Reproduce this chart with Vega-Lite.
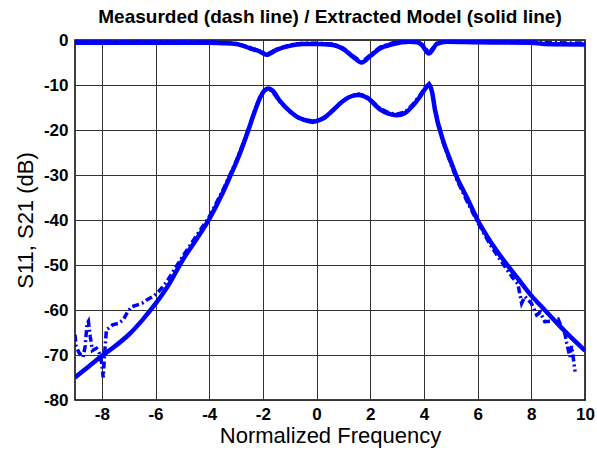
{
  "$schema": "https://vega.github.io/schema/vega-lite/v6.json",
  "width": 510,
  "height": 360,
  "autosize": {"type": "none"},
  "padding": {"left": 75, "top": 40, "right": 12, "bottom": 53},
  "background": "white",
  "title": {
    "text": "Measurded (dash line) / Extracted Model (solid line)",
    "font": "Liberation Sans",
    "fontSize": 19,
    "fontWeight": "bold",
    "color": "black",
    "anchor": "middle",
    "offset": 4
  },
  "config": {
    "view": {"stroke": "black", "strokeWidth": 1.5},
    "axis": {
      "labelFont": "Liberation Sans",
      "labelFontWeight": "bold",
      "labelFontSize": 17,
      "labelColor": "black",
      "titleFont": "Liberation Sans",
      "titleFontWeight": "normal",
      "titleFontSize": 22,
      "titleColor": "black",
      "grid": true,
      "gridColor": "#333333",
      "gridWidth": 1,
      "gridOpacity": 1,
      "domain": false,
      "ticks": false
    }
  },
  "data": {
    "values": [
      {"x": -9, "y": -75, "curve": "S11", "kind": "model"},
      {"x": -8.5, "y": -72.6, "curve": "S11", "kind": "model"},
      {"x": -8, "y": -70.2, "curve": "S11", "kind": "model"},
      {"x": -7.5, "y": -68, "curve": "S11", "kind": "model"},
      {"x": -7, "y": -65.5, "curve": "S11", "kind": "model"},
      {"x": -6.5, "y": -62.3, "curve": "S11", "kind": "model"},
      {"x": -6, "y": -58.6, "curve": "S11", "kind": "model"},
      {"x": -5.5, "y": -54.3, "curve": "S11", "kind": "model"},
      {"x": -5, "y": -49, "curve": "S11", "kind": "model"},
      {"x": -4.5, "y": -44.5, "curve": "S11", "kind": "model"},
      {"x": -4, "y": -39.8, "curve": "S11", "kind": "model"},
      {"x": -3.5, "y": -34, "curve": "S11", "kind": "model"},
      {"x": -3.2, "y": -30, "curve": "S11", "kind": "model"},
      {"x": -3, "y": -27.3, "curve": "S11", "kind": "model"},
      {"x": -2.8, "y": -24.3, "curve": "S11", "kind": "model"},
      {"x": -2.54, "y": -20, "curve": "S11", "kind": "model"},
      {"x": -2.3, "y": -15.8, "curve": "S11", "kind": "model"},
      {"x": -2.1, "y": -12.8, "curve": "S11", "kind": "model"},
      {"x": -1.95, "y": -11.3, "curve": "S11", "kind": "model"},
      {"x": -1.8, "y": -10.8, "curve": "S11", "kind": "model"},
      {"x": -1.65, "y": -11.2, "curve": "S11", "kind": "model"},
      {"x": -1.36, "y": -13.6, "curve": "S11", "kind": "model"},
      {"x": -1, "y": -15.8, "curve": "S11", "kind": "model"},
      {"x": -0.62, "y": -17.4, "curve": "S11", "kind": "model"},
      {"x": -0.13, "y": -18.1, "curve": "S11", "kind": "model"},
      {"x": 0.3, "y": -17.2, "curve": "S11", "kind": "model"},
      {"x": 0.61, "y": -15.6, "curve": "S11", "kind": "model"},
      {"x": 1, "y": -13.5, "curve": "S11", "kind": "model"},
      {"x": 1.3, "y": -12.5, "curve": "S11", "kind": "model"},
      {"x": 1.58, "y": -12.2, "curve": "S11", "kind": "model"},
      {"x": 1.9, "y": -12.9, "curve": "S11", "kind": "model"},
      {"x": 2.36, "y": -15.4, "curve": "S11", "kind": "model"},
      {"x": 2.7, "y": -16.4, "curve": "S11", "kind": "model"},
      {"x": 2.98, "y": -16.7, "curve": "S11", "kind": "model"},
      {"x": 3.3, "y": -16.2, "curve": "S11", "kind": "model"},
      {"x": 3.6, "y": -14.5, "curve": "S11", "kind": "model"},
      {"x": 3.85, "y": -12.6, "curve": "S11", "kind": "model"},
      {"x": 4.05, "y": -10.8, "curve": "S11", "kind": "model"},
      {"x": 4.19, "y": -9.9, "curve": "S11", "kind": "model"},
      {"x": 4.3, "y": -11.5, "curve": "S11", "kind": "model"},
      {"x": 4.41, "y": -15.5, "curve": "S11", "kind": "model"},
      {"x": 4.72, "y": -22.5, "curve": "S11", "kind": "model"},
      {"x": 5, "y": -27, "curve": "S11", "kind": "model"},
      {"x": 5.22, "y": -30.4, "curve": "S11", "kind": "model"},
      {"x": 5.6, "y": -35, "curve": "S11", "kind": "model"},
      {"x": 6, "y": -40, "curve": "S11", "kind": "model"},
      {"x": 6.5, "y": -45, "curve": "S11", "kind": "model"},
      {"x": 7, "y": -49.2, "curve": "S11", "kind": "model"},
      {"x": 7.5, "y": -53, "curve": "S11", "kind": "model"},
      {"x": 8, "y": -56.8, "curve": "S11", "kind": "model"},
      {"x": 8.5, "y": -60, "curve": "S11", "kind": "model"},
      {"x": 9, "y": -63.2, "curve": "S11", "kind": "model"},
      {"x": 9.5, "y": -66.2, "curve": "S11", "kind": "model"},
      {"x": 10, "y": -69, "curve": "S11", "kind": "model"},

      {"x": -9, "y": -65.5, "curve": "S11", "kind": "measured"},
      {"x": -8.96, "y": -68, "curve": "S11", "kind": "measured"},
      {"x": -8.85, "y": -69.5, "curve": "S11", "kind": "measured"},
      {"x": -8.7, "y": -70.5, "curve": "S11", "kind": "measured"},
      {"x": -8.62, "y": -68, "curve": "S11", "kind": "measured"},
      {"x": -8.55, "y": -63, "curve": "S11", "kind": "measured"},
      {"x": -8.5, "y": -62.5, "curve": "S11", "kind": "measured"},
      {"x": -8.43, "y": -66, "curve": "S11", "kind": "measured"},
      {"x": -8.35, "y": -69, "curve": "S11", "kind": "measured"},
      {"x": -8.2, "y": -68.5, "curve": "S11", "kind": "measured"},
      {"x": -8.1, "y": -69.5, "curve": "S11", "kind": "measured"},
      {"x": -8, "y": -72, "curve": "S11", "kind": "measured"},
      {"x": -7.95, "y": -75, "curve": "S11", "kind": "measured"},
      {"x": -7.9, "y": -70, "curve": "S11", "kind": "measured"},
      {"x": -7.83, "y": -64.4, "curve": "S11", "kind": "measured"},
      {"x": -7.7, "y": -63.8, "curve": "S11", "kind": "measured"},
      {"x": -7.6, "y": -63.3, "curve": "S11", "kind": "measured"},
      {"x": -7.4, "y": -63, "curve": "S11", "kind": "measured"},
      {"x": -7.2, "y": -62.2, "curve": "S11", "kind": "measured"},
      {"x": -7.05, "y": -60.5, "curve": "S11", "kind": "measured"},
      {"x": -6.9, "y": -59.3, "curve": "S11", "kind": "measured"},
      {"x": -6.7, "y": -58.9, "curve": "S11", "kind": "measured"},
      {"x": -6.5, "y": -58.5, "curve": "S11", "kind": "measured"},
      {"x": -6.33, "y": -57.8, "curve": "S11", "kind": "measured"},
      {"x": -6.1, "y": -57, "curve": "S11", "kind": "measured"},
      {"x": -5.95, "y": -56.3, "curve": "S11", "kind": "measured"},
      {"x": -5.75, "y": -55, "curve": "S11", "kind": "measured"},
      {"x": -5.58, "y": -53.7, "curve": "S11", "kind": "measured"},
      {"x": -5.3, "y": -51, "curve": "S11", "kind": "measured"},
      {"x": -5, "y": -48.2, "curve": "S11", "kind": "measured"},
      {"x": -4.7, "y": -45.5, "curve": "S11", "kind": "measured"},
      {"x": -4.4, "y": -42.8, "curve": "S11", "kind": "measured"},
      {"x": -4, "y": -39.3, "curve": "S11", "kind": "measured"},
      {"x": -3.5, "y": -33.5, "curve": "S11", "kind": "measured"},
      {"x": -3.2, "y": -29.6, "curve": "S11", "kind": "measured"},
      {"x": -3, "y": -27, "curve": "S11", "kind": "measured"},
      {"x": -2.8, "y": -24, "curve": "S11", "kind": "measured"},
      {"x": -2.54, "y": -19.8, "curve": "S11", "kind": "measured"},
      {"x": -2.3, "y": -15.6, "curve": "S11", "kind": "measured"},
      {"x": -2.1, "y": -12.6, "curve": "S11", "kind": "measured"},
      {"x": -1.95, "y": -11.2, "curve": "S11", "kind": "measured"},
      {"x": -1.8, "y": -10.9, "curve": "S11", "kind": "measured"},
      {"x": -1.65, "y": -11.4, "curve": "S11", "kind": "measured"},
      {"x": -1.36, "y": -13.8, "curve": "S11", "kind": "measured"},
      {"x": -1, "y": -16, "curve": "S11", "kind": "measured"},
      {"x": -0.62, "y": -17.6, "curve": "S11", "kind": "measured"},
      {"x": -0.13, "y": -18.3, "curve": "S11", "kind": "measured"},
      {"x": 0.3, "y": -17.4, "curve": "S11", "kind": "measured"},
      {"x": 0.61, "y": -15.7, "curve": "S11", "kind": "measured"},
      {"x": 1, "y": -13.4, "curve": "S11", "kind": "measured"},
      {"x": 1.3, "y": -12.4, "curve": "S11", "kind": "measured"},
      {"x": 1.58, "y": -12, "curve": "S11", "kind": "measured"},
      {"x": 1.9, "y": -12.7, "curve": "S11", "kind": "measured"},
      {"x": 2.36, "y": -15.2, "curve": "S11", "kind": "measured"},
      {"x": 2.7, "y": -16.2, "curve": "S11", "kind": "measured"},
      {"x": 2.98, "y": -16.5, "curve": "S11", "kind": "measured"},
      {"x": 3.3, "y": -16, "curve": "S11", "kind": "measured"},
      {"x": 3.6, "y": -14.2, "curve": "S11", "kind": "measured"},
      {"x": 3.85, "y": -12.3, "curve": "S11", "kind": "measured"},
      {"x": 4.05, "y": -10.5, "curve": "S11", "kind": "measured"},
      {"x": 4.19, "y": -9.7, "curve": "S11", "kind": "measured"},
      {"x": 4.3, "y": -11.3, "curve": "S11", "kind": "measured"},
      {"x": 4.41, "y": -15.3, "curve": "S11", "kind": "measured"},
      {"x": 4.72, "y": -22.8, "curve": "S11", "kind": "measured"},
      {"x": 5, "y": -27.5, "curve": "S11", "kind": "measured"},
      {"x": 5.22, "y": -31, "curve": "S11", "kind": "measured"},
      {"x": 5.6, "y": -35.8, "curve": "S11", "kind": "measured"},
      {"x": 6, "y": -40.5, "curve": "S11", "kind": "measured"},
      {"x": 6.5, "y": -45.8, "curve": "S11", "kind": "measured"},
      {"x": 6.8, "y": -48.5, "curve": "S11", "kind": "measured"},
      {"x": 7, "y": -50.2, "curve": "S11", "kind": "measured"},
      {"x": 7.3, "y": -52.8, "curve": "S11", "kind": "measured"},
      {"x": 7.5, "y": -54.2, "curve": "S11", "kind": "measured"},
      {"x": 7.64, "y": -58.5, "curve": "S11", "kind": "measured"},
      {"x": 7.76, "y": -57, "curve": "S11", "kind": "measured"},
      {"x": 8, "y": -58.5, "curve": "S11", "kind": "measured"},
      {"x": 8.2, "y": -61.1, "curve": "S11", "kind": "measured"},
      {"x": 8.33, "y": -60.5, "curve": "S11", "kind": "measured"},
      {"x": 8.5, "y": -62.6, "curve": "S11", "kind": "measured"},
      {"x": 8.7, "y": -62.5, "curve": "S11", "kind": "measured"},
      {"x": 9, "y": -62, "curve": "S11", "kind": "measured"},
      {"x": 9.1, "y": -63.5, "curve": "S11", "kind": "measured"},
      {"x": 9.25, "y": -65.2, "curve": "S11", "kind": "measured"},
      {"x": 9.32, "y": -67.4, "curve": "S11", "kind": "measured"},
      {"x": 9.44, "y": -70.4, "curve": "S11", "kind": "measured"},
      {"x": 9.5, "y": -68, "curve": "S11", "kind": "measured"},
      {"x": 9.55, "y": -70, "curve": "S11", "kind": "measured"},
      {"x": 9.63, "y": -73.7, "curve": "S11", "kind": "measured"},

      {"x": -9, "y": -0.6, "curve": "S21", "kind": "model"},
      {"x": -6, "y": -0.6, "curve": "S21", "kind": "model"},
      {"x": -4, "y": -0.6, "curve": "S21", "kind": "model"},
      {"x": -3.5, "y": -0.7, "curve": "S21", "kind": "model"},
      {"x": -3, "y": -0.9, "curve": "S21", "kind": "model"},
      {"x": -2.5, "y": -1.8, "curve": "S21", "kind": "model"},
      {"x": -2.1, "y": -2.6, "curve": "S21", "kind": "model"},
      {"x": -1.86, "y": -3.3, "curve": "S21", "kind": "model"},
      {"x": -1.5, "y": -2.2, "curve": "S21", "kind": "model"},
      {"x": -1, "y": -1.3, "curve": "S21", "kind": "model"},
      {"x": -0.5, "y": -0.9, "curve": "S21", "kind": "model"},
      {"x": 0, "y": -0.9, "curve": "S21", "kind": "model"},
      {"x": 0.61, "y": -1.1, "curve": "S21", "kind": "model"},
      {"x": 0.99, "y": -2, "curve": "S21", "kind": "model"},
      {"x": 1.37, "y": -3.8, "curve": "S21", "kind": "model"},
      {"x": 1.68, "y": -5, "curve": "S21", "kind": "model"},
      {"x": 1.99, "y": -3.6, "curve": "S21", "kind": "model"},
      {"x": 2.36, "y": -1.9, "curve": "S21", "kind": "model"},
      {"x": 2.85, "y": -0.9, "curve": "S21", "kind": "model"},
      {"x": 3.48, "y": -0.4, "curve": "S21", "kind": "model"},
      {"x": 3.75, "y": -0.5, "curve": "S21", "kind": "model"},
      {"x": 3.92, "y": -1.1, "curve": "S21", "kind": "model"},
      {"x": 4.19, "y": -3, "curve": "S21", "kind": "model"},
      {"x": 4.48, "y": -0.9, "curve": "S21", "kind": "model"},
      {"x": 4.85, "y": -0.4, "curve": "S21", "kind": "model"},
      {"x": 6, "y": -0.5, "curve": "S21", "kind": "model"},
      {"x": 8, "y": -0.6, "curve": "S21", "kind": "model"},
      {"x": 8.5, "y": -0.9, "curve": "S21", "kind": "model"},
      {"x": 10, "y": -1, "curve": "S21", "kind": "model"},

      {"x": -9, "y": -0.3, "curve": "S21", "kind": "measured"},
      {"x": -6, "y": -0.3, "curve": "S21", "kind": "measured"},
      {"x": -4, "y": -0.4, "curve": "S21", "kind": "measured"},
      {"x": -3.5, "y": -0.6, "curve": "S21", "kind": "measured"},
      {"x": -3, "y": -0.8, "curve": "S21", "kind": "measured"},
      {"x": -2.5, "y": -1.6, "curve": "S21", "kind": "measured"},
      {"x": -2.1, "y": -2.5, "curve": "S21", "kind": "measured"},
      {"x": -1.86, "y": -3.2, "curve": "S21", "kind": "measured"},
      {"x": -1.5, "y": -2.1, "curve": "S21", "kind": "measured"},
      {"x": -1, "y": -1.1, "curve": "S21", "kind": "measured"},
      {"x": -0.5, "y": -0.7, "curve": "S21", "kind": "measured"},
      {"x": 0, "y": -0.7, "curve": "S21", "kind": "measured"},
      {"x": 0.61, "y": -0.9, "curve": "S21", "kind": "measured"},
      {"x": 0.99, "y": -1.8, "curve": "S21", "kind": "measured"},
      {"x": 1.37, "y": -3.6, "curve": "S21", "kind": "measured"},
      {"x": 1.68, "y": -4.9, "curve": "S21", "kind": "measured"},
      {"x": 1.99, "y": -3.4, "curve": "S21", "kind": "measured"},
      {"x": 2.36, "y": -1.6, "curve": "S21", "kind": "measured"},
      {"x": 2.85, "y": -0.6, "curve": "S21", "kind": "measured"},
      {"x": 3.48, "y": -0.2, "curve": "S21", "kind": "measured"},
      {"x": 3.75, "y": -0.3, "curve": "S21", "kind": "measured"},
      {"x": 3.92, "y": -0.9, "curve": "S21", "kind": "measured"},
      {"x": 4.19, "y": -2.8, "curve": "S21", "kind": "measured"},
      {"x": 4.48, "y": -0.7, "curve": "S21", "kind": "measured"},
      {"x": 4.85, "y": -0.2, "curve": "S21", "kind": "measured"},
      {"x": 6, "y": -0.3, "curve": "S21", "kind": "measured"},
      {"x": 8, "y": -0.4, "curve": "S21", "kind": "measured"},
      {"x": 8.5, "y": -0.6, "curve": "S21", "kind": "measured"},
      {"x": 10, "y": -0.7, "curve": "S21", "kind": "measured"}
    ]
  },
  "encoding": {
    "x": {
      "field": "x",
      "type": "quantitative",
      "scale": {"domain": [-9, 10], "nice": false, "zero": false},
      "axis": {"values": [-8, -6, -4, -2, 0, 2, 4, 6, 8, 10], "labelExpr": "'' + datum.value", "title": "Normalized Frequency", "labelPadding": 6, "titlePadding": 3, "labelFlush": false}
    },
    "y": {
      "field": "y",
      "type": "quantitative",
      "scale": {"domain": [-80, 0], "nice": false},
      "axis": {"values": [-80, -70, -60, -50, -40, -30, -20, -10, 0], "labelExpr": "'' + datum.value", "title": "S11, S21 (dB)", "labelPadding": 7, "titlePadding": 6, "labelFlush": false}
    },
    "detail": {"field": "curve"}
  },
  "layer": [
    {
      "transform": [{"filter": "datum.kind === 'model'"}],
      "mark": {"type": "line", "color": "#0000FF", "strokeWidth": 4.5, "interpolate": "monotone", "clip": true}
    },
    {
      "transform": [{"filter": "datum.kind === 'measured'"}],
      "mark": {"type": "line", "color": "#0000FF", "strokeWidth": 3.5, "strokeDash": [7, 3, 2, 3], "interpolate": "linear", "clip": true}
    }
  ]
}
